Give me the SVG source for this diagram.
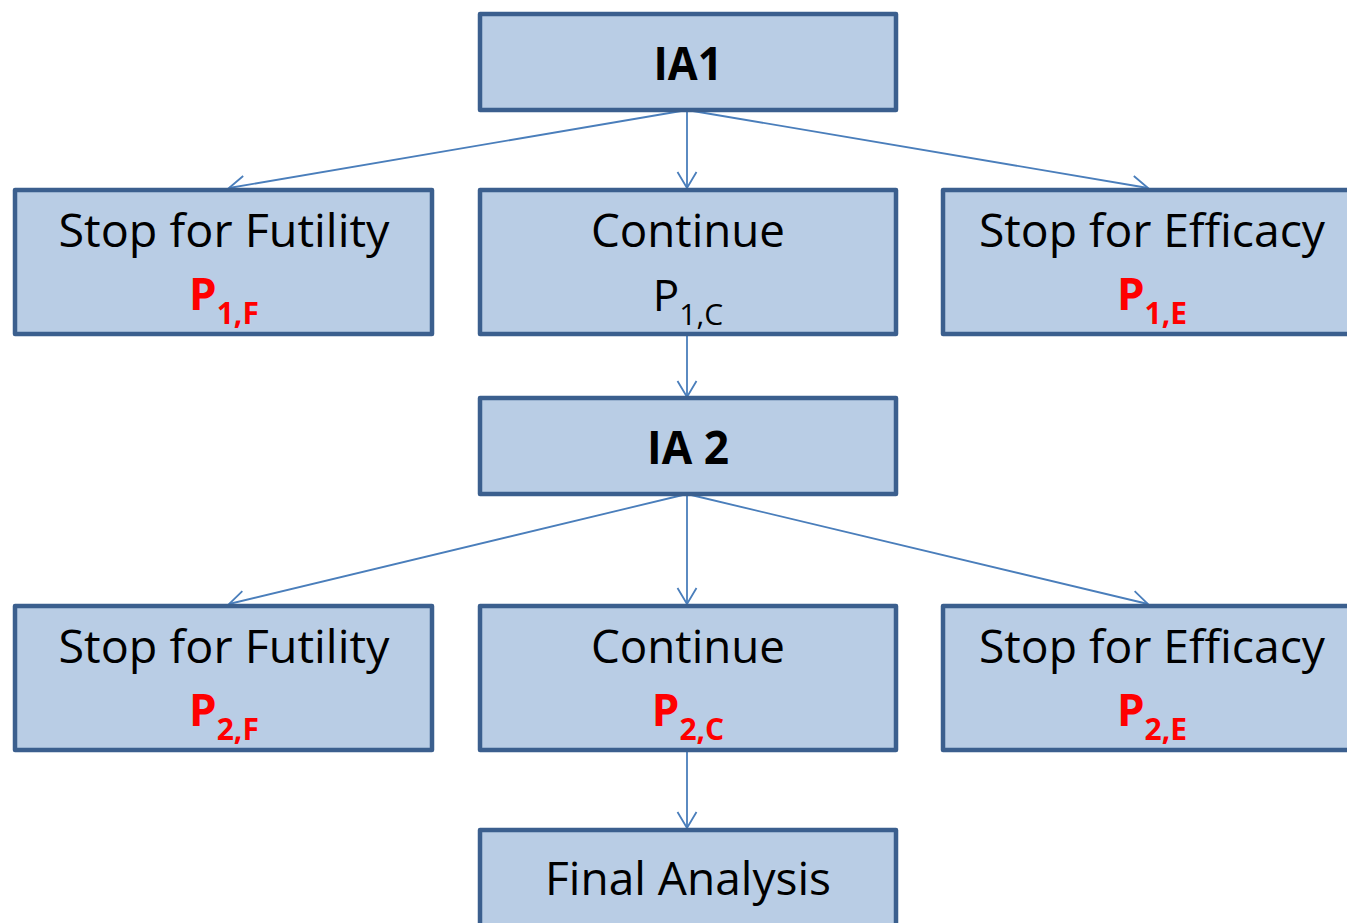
<svg xmlns="http://www.w3.org/2000/svg" width="1347" height="923" viewBox="0 0 1347 923">
<style>
.box{fill:#b9cde5;stroke:#3b5f8e;stroke-width:4.5;stroke-linejoin:round}
.t{font-family:"Open Sans","Noto Sans",sans-serif;font-size:46px;fill:#000;text-anchor:middle}
.b{font-weight:bold}
.p{font-family:"Open Sans","Noto Sans",sans-serif;font-size:44px;text-anchor:middle}
.red{fill:#ff0000;font-weight:bold}
.blk{fill:#000}
.con{stroke:#4a7ebb;stroke-width:1.8;fill:none}
</style>
<defs>
<marker id="arr" markerUnits="userSpaceOnUse" markerWidth="40" markerHeight="40" viewBox="-20 -20 40 40" refX="0" refY="0" orient="auto">
<path d="M-16,-9.5 L0,0 L-16,9.5" fill="none" stroke="#4a7ebb" stroke-width="1.8"/>
</marker>
</defs>
<rect width="1347" height="923" fill="#fff"/>
<g id="connectors">
<line class="con" x1="687" y1="110" x2="229" y2="188" marker-end="url(#arr)"/>
<line class="con" x1="687" y1="110" x2="687" y2="188" marker-end="url(#arr)"/>
<line class="con" x1="687" y1="110" x2="1148" y2="188" marker-end="url(#arr)"/>
<line class="con" x1="687" y1="334" x2="687" y2="397" marker-end="url(#arr)"/>
<line class="con" x1="687" y1="494" x2="229" y2="604" marker-end="url(#arr)"/>
<line class="con" x1="687" y1="494" x2="687" y2="604" marker-end="url(#arr)"/>
<line class="con" x1="687" y1="494" x2="1148" y2="604" marker-end="url(#arr)"/>
<line class="con" x1="687" y1="750" x2="687" y2="828" marker-end="url(#arr)"/>
</g>
<g id="ia1">
<rect class="box" x="480" y="14" width="416" height="96"/>
<text class="t b" x="688" y="80" font-size="48" textLength="69" lengthAdjust="spacingAndGlyphs">IA1</text>
</g>
<g id="futility1">
<rect class="box" x="15" y="190" width="417" height="144"/>
<text class="t" x="224" y="247" textLength="331" lengthAdjust="spacingAndGlyphs">Stop for Futility</text>
<text class="p red" x="224" y="310">P<tspan font-size="30" dy="14">1,F</tspan></text>
</g>
<g id="continue1">
<rect class="box" x="480" y="190" width="416" height="144"/>
<text class="t" x="688" y="247" textLength="194" lengthAdjust="spacingAndGlyphs">Continue</text>
<text class="p blk" x="688" y="311">P<tspan font-size="30" dy="14">1,C</tspan></text>
</g>
<g id="efficacy1">
<rect class="box" x="943" y="190" width="440" height="144"/>
<text class="t" x="1152" y="247" textLength="346" lengthAdjust="spacingAndGlyphs">Stop for Efficacy</text>
<text class="p red" x="1152" y="310">P<tspan font-size="30" dy="14">1,E</tspan></text>
</g>
<g id="ia2">
<rect class="box" x="480" y="398" width="416" height="96"/>
<text class="t b" x="688" y="464" font-size="48" textLength="82" lengthAdjust="spacingAndGlyphs">IA 2</text>
</g>
<g id="futility2">
<rect class="box" x="15" y="606" width="417" height="144"/>
<text class="t" x="224" y="663" textLength="331" lengthAdjust="spacingAndGlyphs">Stop for Futility</text>
<text class="p red" x="224" y="726">P<tspan font-size="30" dy="14">2,F</tspan></text>
</g>
<g id="continue2">
<rect class="box" x="480" y="606" width="416" height="144"/>
<text class="t" x="688" y="663" textLength="194" lengthAdjust="spacingAndGlyphs">Continue</text>
<text class="p red" x="688" y="726">P<tspan font-size="30" dy="14">2,C</tspan></text>
</g>
<g id="efficacy2">
<rect class="box" x="943" y="606" width="440" height="144"/>
<text class="t" x="1152" y="663" textLength="346" lengthAdjust="spacingAndGlyphs">Stop for Efficacy</text>
<text class="p red" x="1152" y="726">P<tspan font-size="30" dy="14">2,E</tspan></text>
</g>
<g id="final">
<rect class="box" x="480" y="830" width="416" height="120"/>
<text class="t" x="688" y="895" textLength="286" lengthAdjust="spacingAndGlyphs">Final Analysis</text>
</g>
</svg>
